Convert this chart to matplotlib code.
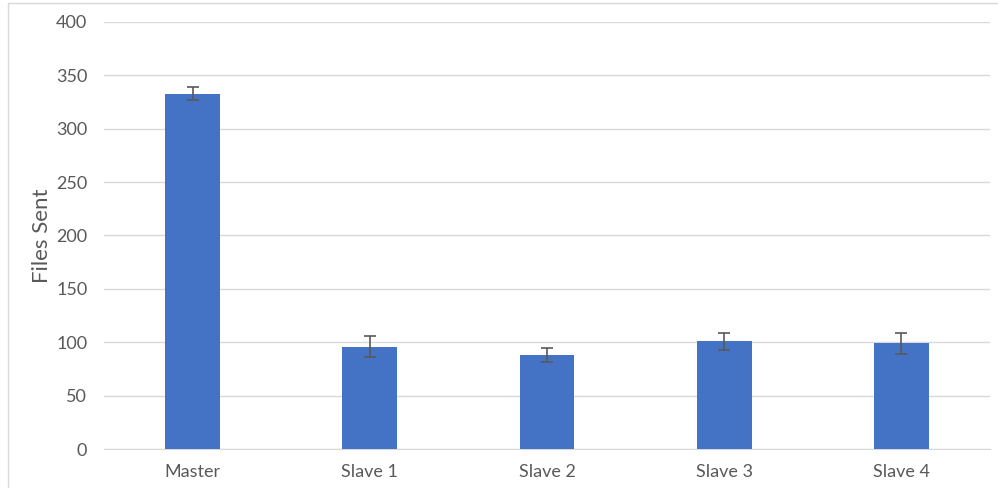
import matplotlib
matplotlib.use("Agg")
import matplotlib.pyplot as plt
from matplotlib.patches import Rectangle

categories = ["Master", "Slave 1", "Slave 2", "Slave 3", "Slave 4"]
values = [333, 96, 88, 101, 99]
errors = [6.5, 9.5, 6.5, 8, 10]
yticks = [0, 50, 100, 150, 200, 250, 300, 350, 400]

plt.rcParams['font.family'] = ['Lato', 'DejaVu Sans']

fig = plt.figure(figsize=(9.98, 4.88), dpi=100)
W, H = 998, 488
ax = fig.add_axes([104 / W, 1 - 449 / H, (990 - 104) / W, (449 - 22) / H])

x = list(range(len(categories)))
ax.bar(x, values, width=0.31, color="#4472C4", zorder=3)
ax.errorbar(x, values, yerr=errors, fmt="none", ecolor="#595959",
            elinewidth=1.2, capsize=4, capthick=1.2, zorder=4)

ax.set_xlim(-0.5, len(categories) - 0.5)
ax.set_ylim(0, 400)
ax.set_yticks(yticks)
ax.set_xticks(x)
ax.set_xticklabels(categories)
ax.yaxis.grid(True, color="#D9D9D9", linewidth=1)
ax.set_axisbelow(True)
for s in ["top", "right", "left"]:
    ax.spines[s].set_visible(False)
ax.spines["bottom"].set_color("#D9D9D9")
ax.tick_params(axis="both", length=0, labelsize=13, labelcolor="#595959")
ax.tick_params(axis="x", pad=11)
ax.tick_params(axis="y", pad=12)
ax.set_ylabel("Files Sent", fontsize=16, color="#595959", labelpad=3)

# chart border
fig.patches.append(Rectangle((8 / W, -0.01), 1.02, 1 - 3 / H + 0.01,
                             transform=fig.transFigure, fill=False,
                             edgecolor="#D9D9D9", linewidth=1))

fig.savefig("out.png", dpi=100)
